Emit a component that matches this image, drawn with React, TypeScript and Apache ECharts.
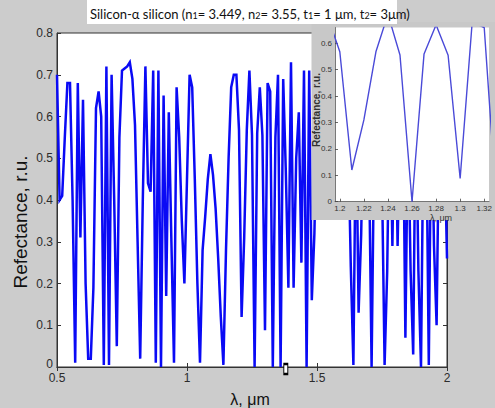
import React, { useEffect, useRef } from "react";
import * as echarts from "echarts";

// Spectral sampling grid (µm)
const lambdaStart = 0.5;
const lambdaStep = 0.01;

// Reflectance of the Si / α-Si stack, one value per wavelength step
const reflectance = [
  0.70, 0.40, 0.41, 0.55, 0.68, 0.68, 0.40, 0.01, 0.68, 0.31,
  0.64, 0.20, 0.02, 0.02, 0.19, 0.62, 0.66, 0.60, 0.005, 0.72,
  0.005, 0.70, 0.40, 0.05, 0.55, 0.71, 0.715, 0.72, 0.73, 0.69,
  0.58, 0.30, 0.02, 0.40, 0.72, 0.44, 0.42, 0.71, 0.01, 0.71,
  0.00, 0.65, 0.17, 0.61, 0.30, 0.01, 0.67, 0.55, 0.35, 0.20,
  0.45, 0.70, 0.67, 0.45, 0.20, 0.01, 0.28, 0.36, 0.45, 0.51,
  0.46, 0.38, 0.26, 0.12, 0.005, 0.28, 0.50, 0.67, 0.70, 0.70,
  0.568, 0.12, 0.31, 0.568, 0.71, 0.556, 0.00, 0.56, 0.67, 0.555,
  0.088, 0.68, 0.66, 0.00, 0.55, 0.70, 0.00, 0.69, 0.47, 0.19,
  0.73, 0.19, 0.50, 0.61, 0.25, 0.71, 0.00, 0.71, 0.16, 0.32,
  0.62, 0.70, 0.55, 0.45, 0.66, 0.71, 0.50, 0.40, 0.62, 0.70,
  0.60, 0.48, 0.55, 0.24, 0.005, 0.62, 0.13, 0.32, 0.65, 0.70,
  0.50, 0.00, 0.55, 0.70, 0.66, 0.45, 0.005, 0.23, 0.68, 0.29,
  0.70, 0.29, 0.62, 0.68, 0.07, 0.60, 0.23, 0.03, 0.66, 0.23,
  0.00, 0.62, 0.60, 0.005, 0.66, 0.29, 0.10, 0.60, 0.70, 0.55,
  0.26,
];

const insetXTicks = [1.2, 1.22, 1.24, 1.26, 1.28, 1.3, 1.32];
const insetYTicks = [0, 0.1, 0.2, 0.3, 0.4, 0.5, 0.6];
const cursorPoint = [1.38, 0];

const titleParts = [
  { t: "Silicon-α silicon (n", s: "1" },
  { t: "= 3.449, n", s: "2" },
  { t: "= 3.55, t", s: "1" },
  { t: "= 1 μm, t", s: "2" },
  { t: "= 3μm)", s: "" },
];

const SANS = "'Liberation Sans', Arial, sans-serif";
const TITLE_FONT = "Lato, 'Open Sans', sans-serif";

export default function App() {
  const ref = useRef<HTMLDivElement>(null);

  useEffect(() => {
    if (!ref.current) return;
    const chart = echarts.init(ref.current, null, { renderer: "svg" });

    const points = reflectance.map((r, i) => [
      Number((lambdaStart + i * lambdaStep).toFixed(2)),
      r,
    ]);

    const titleText = titleParts
      .map((p) => `{a|${p.t}}` + (p.s ? `{s|${p.s}}` : ""))
      .join("");

    const mainTick = {
      inside: true,
      length: 4,
      lineStyle: { color: "#333", width: 1 },
    };
    const insetTickStyle = { color: "#444", width: 0.8 };

    chart.setOption({
      animation: false,
      backgroundColor: "#cccccc",
      grid: [
        {
          left: 57,
          top: 33,
          width: 390,
          height: 334,
          show: true,
          backgroundColor: "#ffffff",
          borderColor: "#333",
          borderWidth: 1,
          z: 0,
        },
        {
          left: 335,
          top: 27.5,
          width: 160,
          height: 174.2,
          show: true,
          backgroundColor: "#ffffff",
          borderWidth: 0,
          z: 10,
        },
      ],
      xAxis: [
        {
          gridIndex: 0,
          type: "value",
          min: 0.5,
          max: 2,
          interval: 0.5,
          axisLine: { show: true, lineStyle: { color: "#333" } },
          axisTick: mainTick,
          axisLabel: { color: "#2b2b2b", fontSize: 12, fontFamily: SANS, margin: 5 },
          splitLine: { show: false },
        },
        {
          gridIndex: 0,
          type: "value",
          position: "top",
          min: 0.5,
          max: 2,
          interval: 0.5,
          axisLine: { show: true, lineStyle: { color: "#333" } },
          axisTick: mainTick,
          axisLabel: { show: false },
          splitLine: { show: false },
        },
        {
          gridIndex: 1,
          type: "value",
          min: 1.196,
          max: 1.324,
          z: 11,
          axisLine: { show: true, lineStyle: { color: "#555", width: 0.8 } },
          axisTick: { inside: true, length: 3, lineStyle: insetTickStyle, customValues: insetXTicks },
          axisLabel: {
            customValues: insetXTicks,
            color: "#333",
            fontSize: 8,
            fontFamily: SANS,
            margin: 3,
          },
          splitLine: { show: false },
        },
      ],
      yAxis: [
        {
          gridIndex: 0,
          type: "value",
          min: 0,
          max: 0.8,
          interval: 0.1,
          axisLine: { show: true, lineStyle: { color: "#333" } },
          axisTick: mainTick,
          axisLabel: {
            color: "#2b2b2b",
            fontSize: 12,
            fontFamily: SANS,
            margin: 4,
            formatter: (v: number) => (v === 0 ? "{z|0}" : String(Number(v.toFixed(1)))),
            rich: {
              z: { color: "#2b2b2b", fontSize: 12, fontFamily: SANS, padding: [0, 0, 6, 0] },
            },
          },
          splitLine: { show: false },
        },
        {
          gridIndex: 0,
          type: "value",
          position: "right",
          min: 0,
          max: 0.8,
          interval: 0.1,
          axisLine: { show: true, lineStyle: { color: "#333" } },
          axisTick: mainTick,
          axisLabel: { show: false },
          splitLine: { show: false },
        },
        {
          gridIndex: 1,
          type: "value",
          min: 0,
          max: 0.66,
          z: 11,
          axisLine: { show: true, lineStyle: { color: "#555", width: 0.8 } },
          axisTick: { inside: true, length: 3, lineStyle: insetTickStyle, customValues: insetYTicks },
          axisLabel: {
            customValues: insetYTicks,
            color: "#333",
            fontSize: 8,
            fontFamily: SANS,
            margin: 3,
          },
          splitLine: { show: false },
        },
      ],
      series: [
        {
          type: "line",
          xAxisIndex: 0,
          yAxisIndex: 0,
          data: points,
          showSymbol: false,
          lineStyle: { color: "#0a0af5", width: 2.5, join: "miter" },
          z: 2,
          markPoint: {
            symbol: "rect",
            symbolSize: [4, 10],
            symbolOffset: [0, 2],
            itemStyle: { color: "#ffffff", borderColor: "#000000", borderWidth: 1.5 },
            label: { show: false },
            data: [{ coord: cursorPoint }],
          },
        },
        {
          type: "line",
          xAxisIndex: 2,
          yAxisIndex: 2,
          data: points,
          showSymbol: false,
          clip: true,
          lineStyle: { color: "#4a4ad8", width: 1.4 },
          z: 12,
        },
      ],
      graphic: [
        // inset panel
        {
          type: "rect",
          z: 9,
          shape: { x: 311.5, y: 22, width: 200, height: 198 },
          style: { fill: "#c8c8c8" },
        },
        // title box
        {
          type: "rect",
          z: 20,
          shape: { x: 87, y: 0, width: 310, height: 24 },
          style: { fill: "#ffffff" },
        },
        {
          type: "text",
          z: 21,
          x: 90,
          y: 12,
          style: {
            text: titleText,
            textVerticalAlign: "middle",
            rich: {
              a: { fontFamily: TITLE_FONT, fontSize: 13, lineHeight: 16, verticalAlign: "bottom", fill: "#111" },
              s: { fontFamily: TITLE_FONT, fontSize: 9, lineHeight: 8, verticalAlign: "bottom", fill: "#111" },
            },
          },
        },
        // main axis names
        {
          type: "text",
          z: 5,
          x: 20,
          y: 222,
          rotation: Math.PI / 2,
          style: {
            text: "Refectance, r.u.",
            fontFamily: SANS,
            fontSize: 19,
            fill: "#111",
            textAlign: "center",
            textVerticalAlign: "middle",
          },
        },
        {
          type: "text",
          z: 5,
          x: 250,
          y: 399,
          style: {
            text: "λ, μm",
            fontFamily: SANS,
            fontSize: 16,
            fill: "#111",
            textAlign: "center",
            textVerticalAlign: "middle",
          },
        },
        // inset axis names
        {
          type: "text",
          z: 13,
          x: 316,
          y: 110,
          rotation: Math.PI / 2,
          style: {
            text: "Refectance, r.u.",
            fontFamily: SANS,
            fontSize: 10,
            fontWeight: "bold",
            fill: "#333",
            textAlign: "center",
            textVerticalAlign: "middle",
          },
        },
        {
          type: "text",
          z: 13,
          x: 441,
          y: 218,
          style: {
            text: "λ, μm",
            fontFamily: SANS,
            fontSize: 9,
            fill: "#333",
            textAlign: "center",
            textVerticalAlign: "middle",
          },
        },
      ],
    });

    return () => chart.dispose();
  }, []);

  return (
    <div
      ref={ref}
      style={{ position: "fixed", left: 0, top: 0, width: 495, height: 408 }}
    />
  );
}
